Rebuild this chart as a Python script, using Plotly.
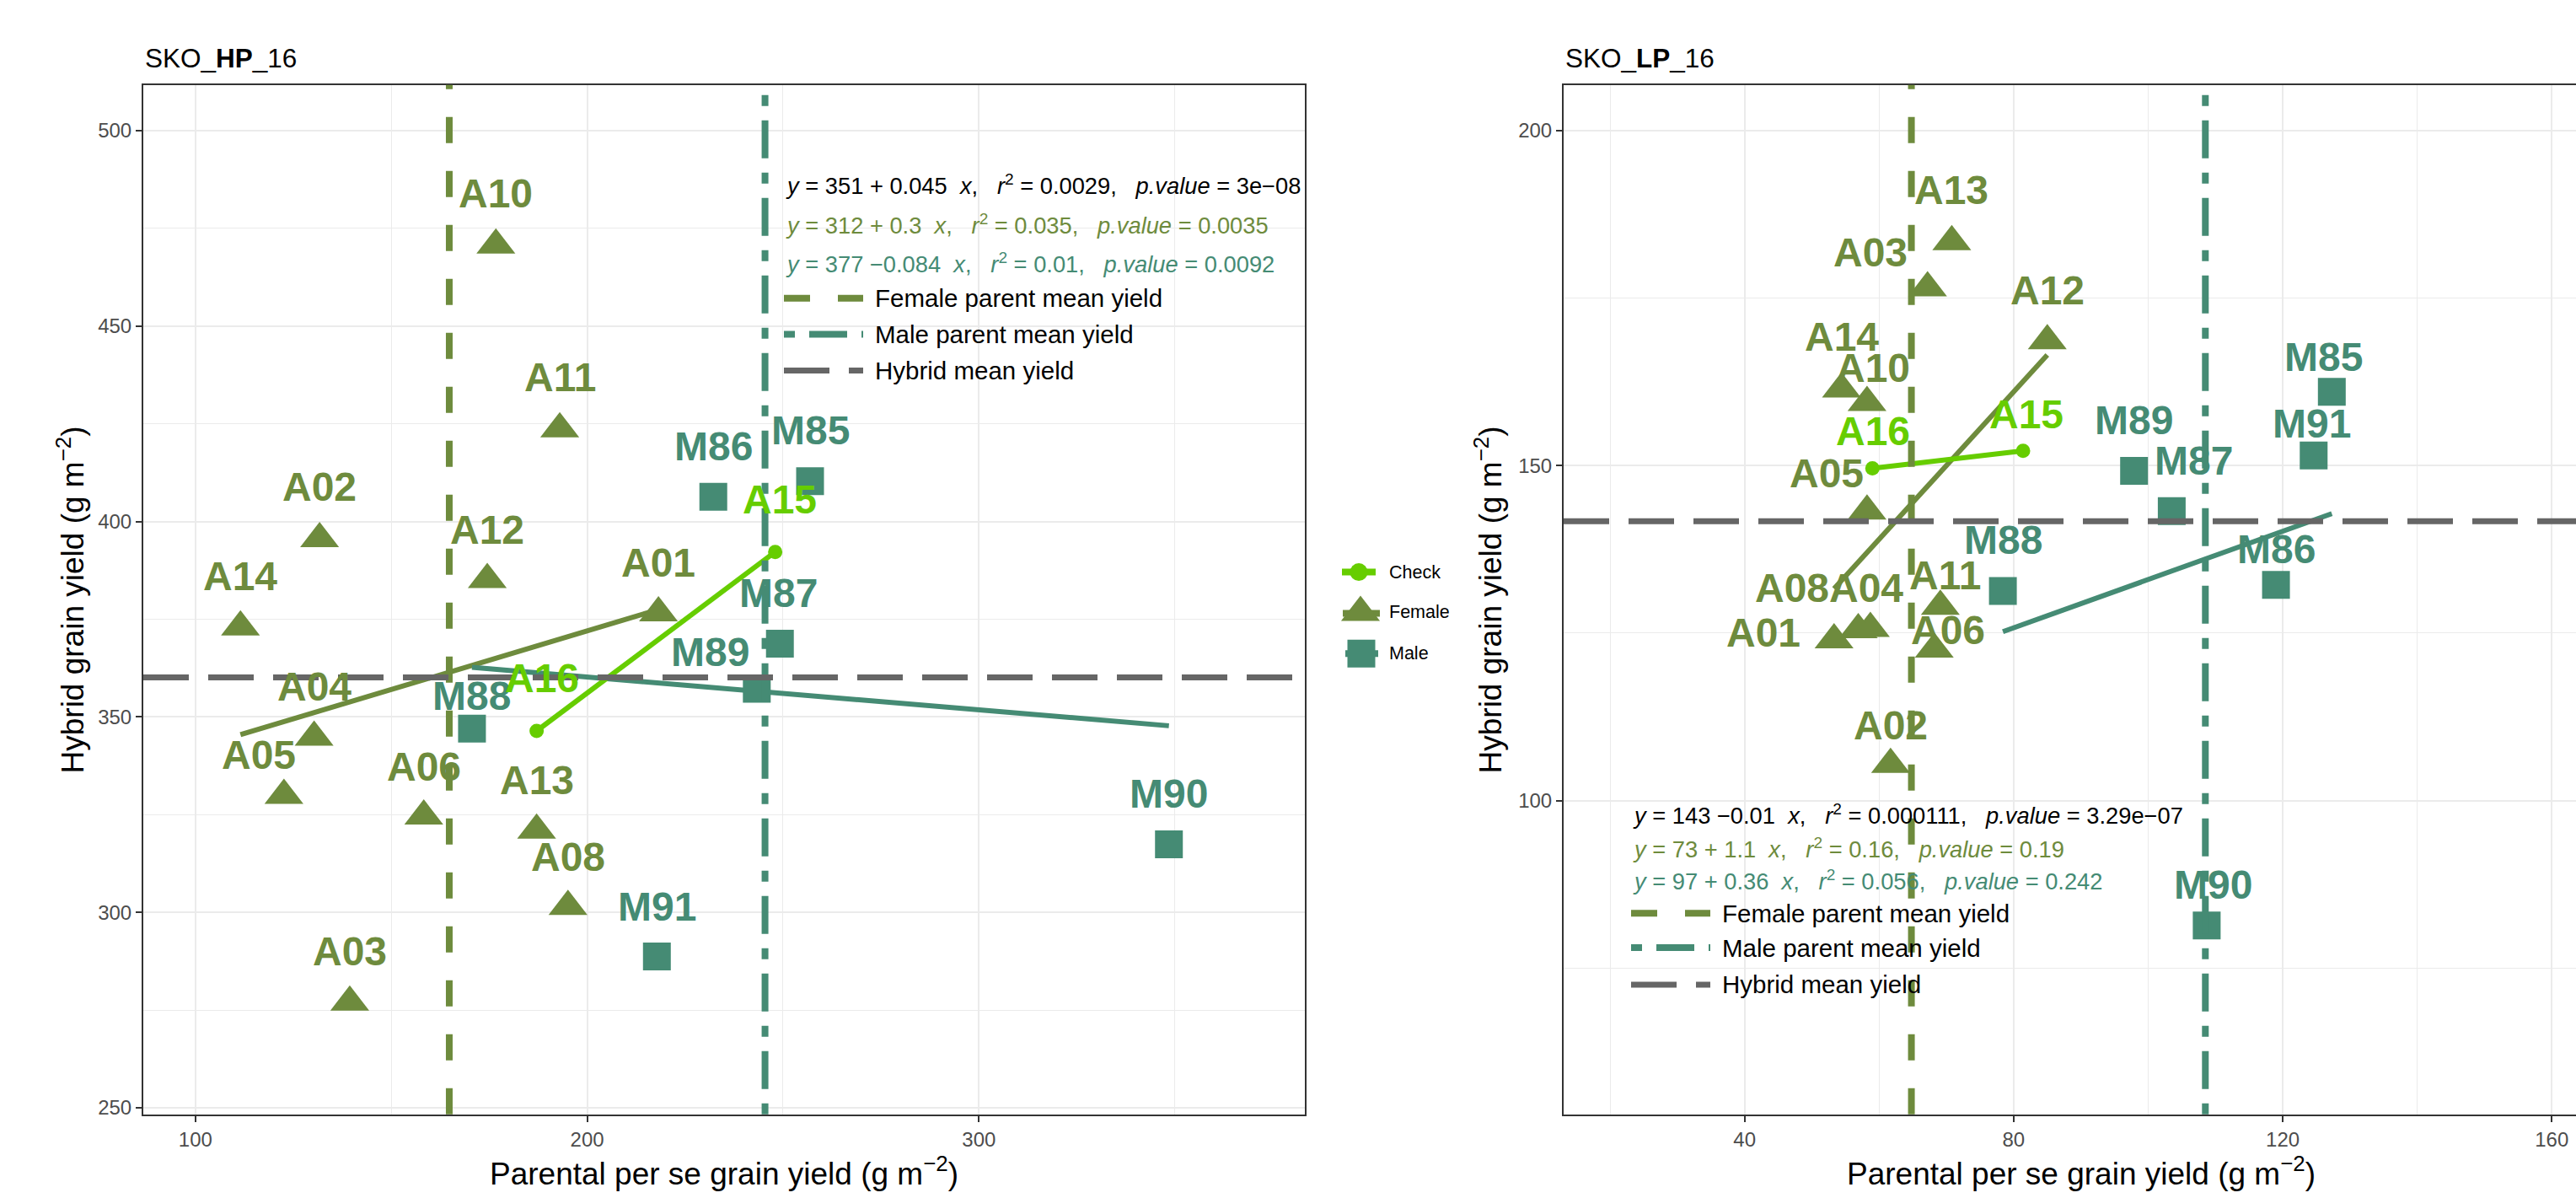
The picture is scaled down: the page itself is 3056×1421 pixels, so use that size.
import plotly.graph_objects as go

# ---------------- SKO_HP_16 ----------------
hp_female_names = ["A01", "A02", "A03", "A04", "A05", "A06", "A08", "A10", "A11", "A12", "A13", "A14"]
hp_female_x = [218.2, 131.7, 139.4, 130.3, 122.6, 158.3, 195.1, 176.7, 193.0, 174.5, 187.1, 111.5]
hp_female_y = [376.6, 395.6, 277.0, 344.8, 329.9, 324.6, 301.5, 470.7, 423.7, 385.1, 321.0, 373.0]
hp_male_names = ["M85", "M86", "M87", "M88", "M89", "M90", "M91"]
hp_male_x = [256.9, 232.2, 249.2, 170.6, 243.3, 348.5, 217.8]
hp_male_y = [410.3, 406.3, 368.7, 347.0, 357.2, 317.4, 288.7]
hp_check_names = ["A16", "A15"]
hp_check_x = [187.1, 248.0]
hp_check_y = [346.4, 392.2]
hp_female_mean = 164.8
hp_male_mean = 245.4
hp_hybrid_mean = 360.1
# fitted models: intercept, slope, r2, p-value
hp_fit_all = (351, 0.045, "0.0029", "3e−08")
hp_fit_female = (312, 0.3, "0.035", "0.0035")
hp_fit_male = (377, -0.084, "0.01", "0.0092")

# ---------------- SKO_LP_16 ----------------
lp_female_names = ["A01", "A02", "A03", "A04", "A05", "A06", "A08", "A10", "A11", "A12", "A13", "A14"]
lp_female_x = [53.3, 61.7, 67.2, 58.7, 58.2, 68.2, 56.9, 58.2, 69.1, 85.0, 70.8, 54.4]
lp_female_y = [124.0, 105.4, 176.5, 125.7, 143.2, 122.6, 125.5, 159.4, 129.0, 168.6, 183.4, 161.4]
lp_male_names = ["M85", "M86", "M87", "M88", "M89", "M90", "M91"]
lp_male_x = [127.3, 119.0, 103.5, 78.4, 97.9, 108.7, 124.6]
lp_male_y = [161.0, 132.2, 143.2, 131.3, 149.2, 81.4, 151.5]
lp_check_names = ["A16", "A15"]
lp_check_x = [59.0, 81.4]
lp_check_y = [149.6, 152.2]
lp_female_mean = 64.8
lp_male_mean = 108.5
lp_hybrid_mean = 141.7
lp_fit_all = (143, -0.01, "0.000111", "3.29e−07")
lp_fit_female = (73, 1.1, "0.16", "0.19")
lp_fit_male = (97, 0.36, "0.056", "0.242")

# label offsets (pixels) used to keep the point labels apart
hp_female_off = [(0, -60), (0, -61), (0, -60), (0, -60), (-30, -48), (0, -59),
                 (0, -59), (0, -61), (0, -61), (0, -59), (0, -59), (0, -60)]
hp_male_off = [(0, -60), (0, -60), (-2, -60), (0, -39), (-55, -43), (0, -60), (0, -59)]
hp_check_off = [(6, -63), (5, -62)]
lp_female_off = [(-84, -8), (0, -46), (-68, -42), (-5, -48), (-48, -45), (16, -23),
                 (-79, -50), (7, -41), (6, -37), (0, -60), (0, -61), (0, -62)]
lp_male_off = [(-10, -41), (0, -42), (26, -60), (0, -60), (0, -60), (8, -48), (-2, -38)]
lp_check_off = [(1, -44), (4, -43)]

# ---------------- styling ----------------
W, H = 3056, 1421
FONT = "Liberation Sans, Arial, Helvetica, sans-serif"
C_FEMALE = "#6E8B3D"
C_MALE = "#458B74"
C_CHECK = "#66CD00"
C_HYBRID = "#666666"
GRID = "#EBEBEB"
DASH_FEMALE = "31px,33px"
DASH_MALE = "13px,17px,45px,17px"
DASH_HYBRID = "54px,23px"


def px(v):
    return v / W


def py(v):
    return 1 - v / H


fig = go.Figure()

panels = [
    dict(xa="x", ya="y", fx=hp_female_x, fy=hp_female_y, fn=hp_female_names, fo=hp_female_off,
         mx=hp_male_x, my=hp_male_y, mn=hp_male_names, mo=hp_male_off,
         cx=hp_check_x, cy=hp_check_y, cn=hp_check_names, co=hp_check_off,
         fit_all=hp_fit_all, fit_f=hp_fit_female, fit_m=hp_fit_male,
         fmean=hp_female_mean, mmean=hp_male_mean, hmean=hp_hybrid_mean),
    dict(xa="x2", ya="y2", fx=lp_female_x, fy=lp_female_y, fn=lp_female_names, fo=lp_female_off,
         mx=lp_male_x, my=lp_male_y, mn=lp_male_names, mo=lp_male_off,
         cx=lp_check_x, cy=lp_check_y, cn=lp_check_names, co=lp_check_off,
         fit_all=lp_fit_all, fit_f=lp_fit_female, fit_m=lp_fit_male,
         fmean=lp_female_mean, mmean=lp_male_mean, hmean=lp_hybrid_mean),
]

annotations = []
shapes = []

for p in panels:
    xa, ya = p["xa"], p["ya"]
    # regression lines over each group's x range
    for xs, fit, col in [(p["fx"], p["fit_f"], C_FEMALE), (p["mx"], p["fit_m"], C_MALE)]:
        x0, x1 = min(xs), max(xs)
        a, b = fit[0], fit[1]
        fig.add_trace(go.Scatter(x=[x0, x1], y=[a + b * x0, a + b * x1], mode="lines",
                                 line=dict(color=col, width=6), xaxis=xa, yaxis=ya,
                                 showlegend=False, hoverinfo="skip"))
    # check entries joined by a line
    fig.add_trace(go.Scatter(x=p["cx"], y=p["cy"], mode="lines+markers",
                             line=dict(color=C_CHECK, width=6),
                             marker=dict(color=C_CHECK, size=17, symbol="circle"),
                             xaxis=xa, yaxis=ya, showlegend=False))
    fig.add_trace(go.Scatter(x=p["fx"], y=p["fy"], mode="markers",
                             marker=dict(color=C_FEMALE, size=40, symbol="triangle-up"),
                             xaxis=xa, yaxis=ya, showlegend=False))
    fig.add_trace(go.Scatter(x=p["mx"], y=p["my"], mode="markers",
                             marker=dict(color=C_MALE, size=33, symbol="square"),
                             xaxis=xa, yaxis=ya, showlegend=False))

    # point labels
    for names, xs, ys, offs, col in [(p["fn"], p["fx"], p["fy"], p["fo"], C_FEMALE),
                                      (p["mn"], p["mx"], p["my"], p["mo"], C_MALE),
                                      (p["cn"], p["cx"], p["cy"], p["co"], C_CHECK)]:
        for n, xv, yv, (dx, dy) in zip(names, xs, ys, offs):
            annotations.append(dict(x=xv, y=yv, xref=xa, yref=ya, text=f"<b>{n}</b>",
                                    showarrow=False, xshift=dx, yshift=-dy,
                                    xanchor="center", yanchor="middle",
                                    font=dict(family=FONT, size=48, color=col)))

    # parent and hybrid mean lines
    xd = xa + " domain"
    yd = ya + " domain"
    shapes.append(dict(type="line", xref=xa, yref=yd, x0=p["fmean"], x1=p["fmean"], y0=0, y1=1,
                       line=dict(color=C_FEMALE, width=8, dash=DASH_FEMALE), layer="above"))
    shapes.append(dict(type="line", xref=xa, yref=yd, x0=p["mmean"], x1=p["mmean"], y0=0, y1=1,
                       line=dict(color=C_MALE, width=8, dash=DASH_MALE), layer="above"))
    shapes.append(dict(type="line", xref=xd, yref=ya, x0=0, x1=1, y0=p["hmean"], y1=p["hmean"],
                       line=dict(color=C_HYBRID, width=7, dash=DASH_HYBRID), layer="above"))


def eq_text(fit):
    a, b, r2, pv = fit
    nb = "\u00a0"
    sign = f" + {b}" if b >= 0 else f" −{abs(b)}"
    return (f"<i>y</i> = {a}{sign}{nb}{nb}<i>x</i>,{nb}{nb}{nb}<i>r</i><sup>2</sup> = {r2},"
            f"{nb}{nb}{nb}<i>p.value</i> = {pv}")


# equation blocks and line key inside each panel
blocks = [
    dict(x=930, ys=[220, 266.5, 313, 355, 398, 441], fits=(hp_fit_all, hp_fit_female, hp_fit_male)),
    dict(x=1935, ys=[969, 1010, 1048, 1087, 1128, 1172], fits=(lp_fit_all, lp_fit_female, lp_fit_male)),
]
for blk in blocks:
    for fit, yv, col in zip(blk["fits"], blk["ys"][:3], ["#000000", C_FEMALE, C_MALE]):
        annotations.append(dict(x=px(blk["x"]), y=py(yv), xref="paper", yref="paper",
                                text=eq_text(fit), showarrow=False, xanchor="left", yanchor="middle",
                                font=dict(family=FONT, size=27.3, color=col)))
    keys = [("Female parent mean yield", C_FEMALE, DASH_FEMALE, 8),
            ("Male parent mean yield", C_MALE, DASH_MALE, 8),
            ("Hybrid mean yield", C_HYBRID, DASH_HYBRID, 7)]
    for (label, col, dash, lw), yv in zip(keys, blk["ys"][3:]):
        shapes.append(dict(type="line", xref="paper", yref="paper",
                           x0=px(blk["x"]), x1=px(blk["x"] + 94), y0=py(yv), y1=py(yv),
                           line=dict(color=col, width=lw, dash=dash)))
        annotations.append(dict(x=px(blk["x"] + 106), y=py(yv), xref="paper", yref="paper",
                                text=label, showarrow=False, xanchor="left", yanchor="middle",
                                font=dict(family=FONT, size=29.5, color="#000000")))

# panel titles
for xpix, tag in [(170, "HP"), (1855, "LP")]:
    annotations.append(dict(x=px(xpix), y=py(69), xref="paper", yref="paper",
                            text=f"SKO_<b>{tag}</b>_16", showarrow=False,
                            xanchor="left", yanchor="middle",
                            font=dict(family=FONT, size=31.5, color="#000000")))

# axis titles
xt = "Parental per se grain yield (g m<sup>−2</sup>)"
yt = "Hybrid grain yield (g m<sup>−2</sup>)"
for xc in [859, 2469]:
    annotations.append(dict(x=px(xc), y=py(1394), xref="paper", yref="paper", text=xt,
                            showarrow=False, xanchor="center", yanchor="middle",
                            font=dict(family=FONT, size=37, color="#000000")))
for xc in [84, 1766]:
    annotations.append(dict(x=px(xc), y=py(714), xref="paper", yref="paper", text=yt,
                            showarrow=False, xanchor="center", yanchor="middle", textangle=-90,
                            font=dict(family=FONT, size=37, color="#000000")))

# group key between the panels
key_rows = [("Check", 681), ("Female", 729), ("Male", 778)]
fig.add_trace(go.Scatter(x=[1592, 1632], y=[681, 681], mode="lines", line=dict(color=C_CHECK, width=8),
                         xaxis="x3", yaxis="y3", showlegend=False, hoverinfo="skip"))
fig.add_trace(go.Scatter(x=[1612], y=[681], mode="markers", marker=dict(color=C_CHECK, size=21),
                         xaxis="x3", yaxis="y3", showlegend=False, hoverinfo="skip"))
fig.add_trace(go.Scatter(x=[1593, 1637], y=[730, 730], mode="lines", line=dict(color=C_FEMALE, width=8),
                         xaxis="x3", yaxis="y3", showlegend=False, hoverinfo="skip"))
fig.add_trace(go.Scatter(x=[1614], y=[729], mode="markers",
                         marker=dict(color=C_FEMALE, size=40, symbol="triangle-up"),
                         xaxis="x3", yaxis="y3", showlegend=False, hoverinfo="skip"))
fig.add_trace(go.Scatter(x=[1596, 1635], y=[778, 778], mode="lines", line=dict(color=C_MALE, width=8),
                         xaxis="x3", yaxis="y3", showlegend=False, hoverinfo="skip"))
fig.add_trace(go.Scatter(x=[1615], y=[778], mode="markers",
                         marker=dict(color=C_MALE, size=33, symbol="square"),
                         xaxis="x3", yaxis="y3", showlegend=False, hoverinfo="skip"))
for label, yv in key_rows:
    annotations.append(dict(x=px(1646), y=py(yv), xref="paper", yref="paper", text=label,
                            showarrow=False, xanchor="left", yanchor="middle",
                            font=dict(family=FONT, size=21.5, color="#000000")))

axis_common = dict(showgrid=True, gridcolor=GRID, gridwidth=2.2, zeroline=False,
                   showline=True, linecolor="#333333", linewidth=2,
                   ticks="outside", ticklen=7, tickwidth=2, tickcolor="#333333",
                   tickfont=dict(family=FONT, size=24, color="#4D4D4D"))


def minor_grid(d):
    return dict(dtick=d, showgrid=True, gridcolor=GRID, gridwidth=1.1)


ydom = [py(1326.5), py(101)]
fig.update_layout(
    width=W, height=H, margin=dict(l=0, r=0, t=0, b=0),
    paper_bgcolor="white", plot_bgcolor="white", showlegend=False,
    xaxis=dict(domain=[px(170), px(1548)], range=[86.7, 383.2], dtick=100, tick0=0,
               mirror=True, minor=minor_grid(50), anchor="y", **axis_common),
    yaxis=dict(domain=ydom, range=[248.3, 511.7], dtick=50, tick0=0,
               mirror=True, minor=minor_grid(25), anchor="x", **axis_common),
    xaxis2=dict(domain=[px(1855), 1.0], range=[13.1, 163.6], dtick=40, tick0=0,
                mirror=True, minor=minor_grid(20), anchor="y2", **axis_common),
    yaxis2=dict(domain=ydom, range=[53.2, 206.8], dtick=50, tick0=0,
                mirror=False, minor=minor_grid(25), anchor="x2", **axis_common),
    xaxis3=dict(domain=[px(1580), px(1720)], range=[1580, 1720], visible=False, anchor="y3"),
    yaxis3=dict(domain=[py(820), py(640)], range=[820, 640], visible=False, anchor="x3"),
    annotations=annotations, shapes=shapes,
)

fig.write_html("out.html")
